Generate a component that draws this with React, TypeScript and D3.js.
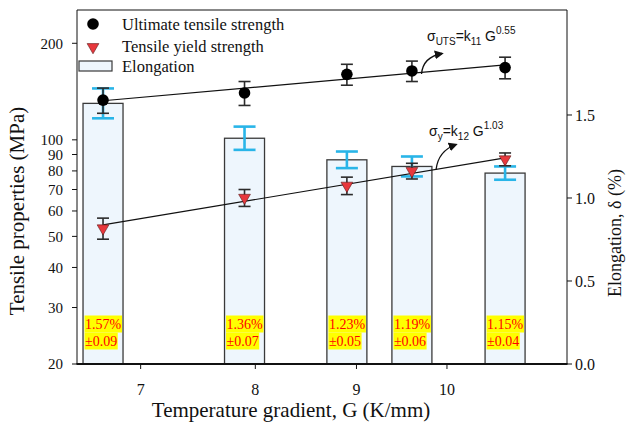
import React, { useEffect, useRef } from "react";
import * as d3 from "d3";

// Temperature gradient (K/mm) for each casting condition
const gradient = [6.7, 7.9, 8.9, 9.6, 10.7];
// Ultimate tensile strength (MPa) and its spread
const utsValues = [133, 140, 160, 164, 168];
const utsErrors = [12, 12, 12, 12, 13];
// Tensile yield strength (MPa) and its spread
const yieldValues = [53, 66, 72, 80, 87];
const yieldErrors = [4, 4, 4.5, 4.5, 4];
// Elongation (%) and its spread
const elongValues = [1.57, 1.36, 1.23, 1.19, 1.15];
const elongErrors = [0.09, 0.07, 0.05, 0.06, 0.04];

const leftTicks = [20, 30, 40, 50, 60, 70, 80, 90, 100, 200];
const rightTicks = [0, 0.5, 1.0, 1.5];
const bottomTicks = [7, 8, 9, 10];

const utsExponent = 0.55;
const yieldExponent = 1.03;

const W = 628;
const H = 431;
const M = { left: 77, right: 567, top: 10, bottom: 364 };
const SERIF = "'Liberation Serif', 'Times New Roman', serif";
const SANS = "'Liberation Sans', Arial, sans-serif";

// power-law fit with a fixed exponent: log k = mean(log y - b log G)
function fitK(g: number[], v: number[], b: number) {
  const lk = d3.mean(g.map((gi, i) => Math.log(v[i]) - b * Math.log(gi))) as number;
  return Math.exp(lk);
}

export default function App() {
  const ref = useRef<SVGSVGElement>(null);

  useEffect(() => {
    const svg = d3.select(ref.current);
    svg.selectAll("*").remove();

    const x = d3.scaleLog().domain([6.5, 11.5]).range([M.left, M.right]);
    const yL = d3.scaleLog().domain([20, 254]).range([M.bottom, M.top]);
    const yR = d3.scaleLinear().domain([0, 2.1325]).range([M.bottom, M.top]);

    const defs = svg.append("defs");
    defs
      .append("marker")
      .attr("id", "arrowhead")
      .attr("viewBox", "0 0 10 10")
      .attr("refX", 8)
      .attr("refY", 5)
      .attr("markerWidth", 9)
      .attr("markerHeight", 9)
      .attr("markerUnits", "userSpaceOnUse")
      .attr("orient", "auto")
      .append("path")
      .attr("d", "M0,0 L10,5 L0,10 Z")
      .attr("fill", "#111");

    const barW = 40;
    const idx = d3.range(gradient.length);

    // elongation bars
    svg
      .append("g")
      .selectAll("rect")
      .data(idx)
      .join("rect")
      .attr("x", (i) => x(gradient[i]) - barW / 2)
      .attr("y", (i) => yR(elongValues[i]))
      .attr("width", barW)
      .attr("height", (i) => yR(0) - yR(elongValues[i]))
      .attr("fill", "#EEF6FD")
      .attr("stroke", "#3a3a3a")
      .attr("stroke-width", 1.3);

    // elongation error bars
    const cyan = "#29B5E8";
    const ce = svg.append("g").attr("stroke", cyan).attr("stroke-width", 2.6);
    idx.forEach((i) => {
      const cx = x(gradient[i]);
      const t = yR(elongValues[i] + elongErrors[i]);
      const b = yR(elongValues[i] - elongErrors[i]);
      ce.append("line").attr("x1", cx).attr("x2", cx).attr("y1", t).attr("y2", b);
      ce.append("line").attr("x1", cx - 11).attr("x2", cx + 11).attr("y1", t).attr("y2", t);
      ce.append("line").attr("x1", cx - 11).attr("x2", cx + 11).attr("y1", b).attr("y2", b);
    });

    // elongation value labels
    idx.forEach((i) => {
      const left = x(gradient[i]) - barW / 2 + 1.5;
      const lines = [`${elongValues[i].toFixed(2)}%`, `±${elongErrors[i].toFixed(2)}`];
      lines.forEach((s, k) => {
        const base = 329 + k * 17;
        const bg = svg.append("rect").attr("fill", "#FFFF00");
        const t = svg
          .append("text")
          .attr("x", left + 0.5)
          .attr("y", base)
          .attr("font-family", SERIF)
          .attr("font-size", 14)
          .attr("fill", "#FF0000")
          .text(s);
        const bb = (t.node() as SVGTextElement).getBBox();
        bg.attr("x", left)
          .attr("y", base - 13.5)
          .attr("width", bb.width + 1)
          .attr("height", 17);
      });
    });

    // power-law fit lines
    const kU = fitK(gradient, utsValues, utsExponent);
    const kY = fitK(gradient, yieldValues, yieldExponent);
    const gFit = [gradient[0], gradient[gradient.length - 1]];
    const fitLine = d3.line<number>().x((g) => x(g));
    svg
      .append("path")
      .attr("d", fitLine.y((g) => yL(kU * Math.pow(g, utsExponent)))(gFit))
      .attr("fill", "none")
      .attr("stroke", "#111")
      .attr("stroke-width", 1.2);
    svg
      .append("path")
      .attr("d", fitLine.y((g) => yL(kY * Math.pow(g, yieldExponent)))(gFit))
      .attr("fill", "none")
      .attr("stroke", "#111")
      .attr("stroke-width", 1.2);

    // strength error bars
    const be = svg.append("g").attr("stroke", "#2b2b2b").attr("stroke-width", 1.6);
    const errBar = (vals: number[], errs: number[]) =>
      idx.forEach((i) => {
        const cx = x(gradient[i]);
        const t = yL(vals[i] + errs[i]);
        const b = yL(vals[i] - errs[i]);
        be.append("line").attr("x1", cx).attr("x2", cx).attr("y1", t).attr("y2", b);
        be.append("line").attr("x1", cx - 6).attr("x2", cx + 6).attr("y1", t).attr("y2", t);
        be.append("line").attr("x1", cx - 6).attr("x2", cx + 6).attr("y1", b).attr("y2", b);
      });
    errBar(utsValues, utsErrors);
    errBar(yieldValues, yieldErrors);

    const tri = d3.symbol().type(d3.symbolTriangle).size(60);

    // UTS points
    svg
      .append("g")
      .selectAll("circle")
      .data(idx)
      .join("circle")
      .attr("cx", (i) => x(gradient[i]))
      .attr("cy", (i) => yL(utsValues[i]))
      .attr("r", 5.8)
      .attr("fill", "#000");

    // yield points (down-pointing triangles)
    svg
      .append("g")
      .selectAll("path")
      .data(idx)
      .join("path")
      .attr("d", tri() as string)
      .attr("transform", (i) => `translate(${x(gradient[i])},${yL(yieldValues[i])}) rotate(180)`)
      .attr("fill", "#E8383D")
      .attr("stroke", "#5a1a1a")
      .attr("stroke-width", 0.6);

    // frame
    const frame = svg.append("g").attr("stroke", "#111").attr("fill", "none");
    frame.append("line").attr("x1", M.left).attr("x2", M.right).attr("y1", M.top).attr("y2", M.top).attr("stroke-width", 1);
    frame.append("line").attr("x1", M.left).attr("x2", M.left).attr("y1", M.top).attr("y2", M.bottom).attr("stroke-width", 1);
    frame.append("line").attr("x1", M.right).attr("x2", M.right).attr("y1", M.top).attr("y2", M.bottom).attr("stroke-width", 1);
    frame.append("line").attr("x1", M.left - 0.5).attr("x2", M.right + 0.5).attr("y1", M.bottom).attr("y2", M.bottom).attr("stroke-width", 2.2);

    // left axis ticks
    const lt = svg.append("g");
    leftTicks.forEach((v) => {
      const yy = yL(v);
      lt.append("line").attr("x1", M.left - 5).attr("x2", M.left).attr("y1", yy).attr("y2", yy).attr("stroke", "#111");
      lt.append("text")
        .attr("x", M.left - 14)
        .attr("y", yy)
        .attr("dy", "0.35em")
        .attr("text-anchor", "end")
        .attr("font-family", SERIF)
        .attr("font-size", 15)
        .attr("fill", "#111")
        .text(v);
    });

    // right axis ticks
    const rt = svg.append("g");
    rightTicks.forEach((v) => {
      const yy = yR(v);
      rt.append("line").attr("x1", M.right).attr("x2", M.right + 5).attr("y1", yy).attr("y2", yy).attr("stroke", "#111");
      rt.append("text")
        .attr("x", M.right + 8)
        .attr("y", yy)
        .attr("dy", "0.35em")
        .attr("font-family", SERIF)
        .attr("font-size", 16)
        .attr("fill", "#111")
        .text(v.toFixed(1));
    });

    // bottom axis ticks
    const bt = svg.append("g");
    bottomTicks.forEach((v) => {
      const xx = x(v);
      bt.append("line").attr("x1", xx).attr("x2", xx).attr("y1", M.bottom).attr("y2", M.bottom + 5).attr("stroke", "#111");
      bt.append("text")
        .attr("x", xx)
        .attr("y", 395)
        .attr("text-anchor", "middle")
        .attr("font-family", SERIF)
        .attr("font-size", 16)
        .attr("fill", "#111")
        .text(v);
    });

    // axis titles
    svg
      .append("text")
      .attr("x", 291)
      .attr("y", 417)
      .attr("text-anchor", "middle")
      .attr("font-family", SERIF)
      .attr("font-size", 21)
      .attr("fill", "#111")
      .text("Temperature gradient, G (K/mm)");
    svg
      .append("text")
      .attr("transform", "translate(24,211) rotate(-90)")
      .attr("text-anchor", "middle")
      .attr("font-family", SERIF)
      .attr("font-size", 21)
      .attr("fill", "#111")
      .text("Tensile properties (MPa)");
    svg
      .append("text")
      .attr("transform", "translate(621,233) rotate(-90)")
      .attr("text-anchor", "middle")
      .attr("font-family", SERIF)
      .attr("font-size", 18)
      .attr("fill", "#111")
      .text("Elongation, δ (%)");

    // legend
    const lg = svg.append("g");
    lg.append("circle").attr("cx", 93).attr("cy", 24).attr("r", 5.8).attr("fill", "#000");
    lg.append("path")
      .attr("d", tri() as string)
      .attr("transform", "translate(93,47) rotate(180)")
      .attr("fill", "#E8383D")
      .attr("stroke", "#5a1a1a")
      .attr("stroke-width", 0.6);
    lg.append("rect")
      .attr("x", 79)
      .attr("y", 61)
      .attr("width", 33)
      .attr("height", 10)
      .attr("fill", "#EEF6FD")
      .attr("stroke", "#3a3a3a")
      .attr("stroke-width", 1.2);
    [
      ["Ultimate tensile strength", 24],
      ["Tensile yield strength", 46],
      ["Elongation", 66],
    ].forEach(([s, yy]) => {
      lg.append("text")
        .attr("x", 122)
        .attr("y", yy as number)
        .attr("dy", "0.35em")
        .attr("font-family", SERIF)
        .attr("font-size", 16.5)
        .attr("fill", "#111")
        .text(s as string);
    });

    // fit equations with arrows
    const eq = (x0: number, y0: number, sub: string, kSub: string, exp: string) => {
      const t = svg
        .append("text")
        .attr("x", x0)
        .attr("y", y0)
        .attr("font-family", SANS)
        .attr("font-size", 14)
        .attr("fill", "#111");
      t.append("tspan").text("σ");
      t.append("tspan").attr("dy", 4).attr("font-size", 10).text(sub);
      t.append("tspan").attr("dy", -4).text("=k");
      t.append("tspan").attr("dy", 4).attr("font-size", 10).text(kSub);
      t.append("tspan").attr("dy", -4).text(" G");
      t.append("tspan").attr("dy", -7).attr("font-size", 10).text(exp);
    };
    eq(427, 41, "UTS", "11", "0.55");
    eq(429, 136, "y", "12", "1.03");

    const arrows = ["M421.5,74 Q423,57 442,53.5", "M436,170 Q438,151 456,144.5"];
    arrows.forEach((d) =>
      svg
        .append("path")
        .attr("d", d)
        .attr("fill", "none")
        .attr("stroke", "#111")
        .attr("stroke-width", 1.3)
        .attr("marker-end", "url(#arrowhead)")
    );
  }, []);

  return (
    <svg
      ref={ref}
      width={W}
      height={H}
      style={{ position: "absolute", left: 0, top: 0, background: "#fff" }}
    />
  );
}
